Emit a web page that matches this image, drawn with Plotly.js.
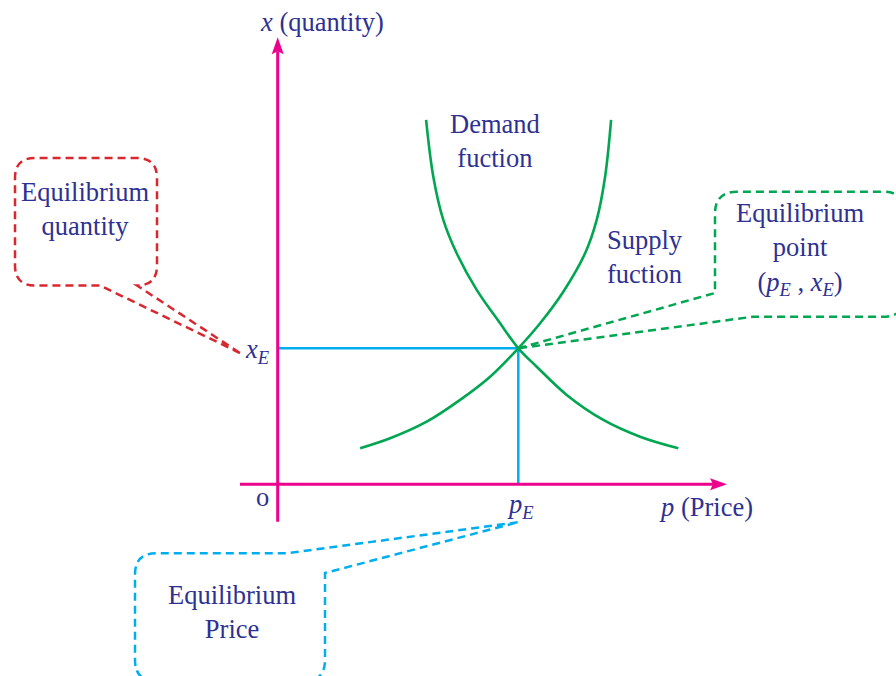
<!DOCTYPE html>
<html>
<head>
<meta charset="utf-8">
<script src="https://cdn.plot.ly/plotly-3.0.1.min.js"></script>
<style>html,body{margin:0;padding:0;background:#fff;}#chart{width:896px;height:676px;}</style>
</head>
<body>
<div id="chart"></div>
<script>
// ---- data (economic units) ----
const pE = 12.03;          // equilibrium price
const xE = 6.8;            // equilibrium quantity
const supplyP = [4.12, 5.62, 7.45, 9.12, 10.62, 12.03, 13.12, 14.28, 15.37, 15.95, 16.37, 16.67];
const supplyX = [1.8, 2.3, 3.13, 4.22, 5.38, 6.8, 8.05, 9.63, 11.55, 13.22, 15.38, 18.22];
const demandP = [7.42, 7.78, 8.28, 8.95, 9.95, 11.12, 12.03, 12.95, 14.45, 16.28, 18.12, 20.03];
const demandX = [18.22, 15.38, 13.22, 11.55, 9.72, 8.05, 6.8, 5.88, 4.47, 3.22, 2.38, 1.8];
const axisP = [-1.885, 22.465];   // horizontal axis extent (p)
const axisX = [-1.87, 22.35];     // vertical axis extent (x)

// ---- styles ----
const PINK = '#EC008C', GREEN = '#00A651', BLUE = '#00AEEF', RED = '#D7282F', NAVY = '#2E3192';
const FONT = {family: '"Liberation Serif", "Times New Roman", Times, serif', size: 26.5, color: NAVY};

const traces = [
  {x: [0, pE], y: [xE, xE], mode: 'lines', line: {color: BLUE, width: 2.5}},
  {x: [pE, pE], y: [0, xE], mode: 'lines', line: {color: BLUE, width: 2.5}},
  {x: demandP, y: demandX, mode: 'lines', line: {color: GREEN, width: 2.6, shape: 'spline', smoothing: 1}},
  {x: supplyP, y: supplyX, mode: 'lines', line: {color: GREEN, width: 2.6, shape: 'spline', smoothing: 1}},
  {x: [axisP[0], axisP[1] - 0.7], y: [0, 0], mode: 'lines', line: {color: PINK, width: 3}},
  {x: [0, 0], y: [axisX[0], axisX[1] - 0.7], mode: 'lines', line: {color: PINK, width: 3}}
];

// arrowheads
const hL = 0.85, hW = 0.3, hN = 0.7;
const tP = axisP[1], tX = axisX[1];
const arrowH = `M${tP},0 L${tP - hL},${hW} L${tP - hN},0 L${tP - hL},${-hW} Z`;
const arrowV = `M0,${tX} L${hW},${tX - hL} L0,${tX - hN} L${-hW},${tX - hL} Z`;

// callout bubbles
function redPath(b) {
  const {l, r, t, bo, rad, a, tip} = b;
  return `M${tip[0]},${tip[1]} L${a},${bo} L${l + rad},${bo} Q${l},${bo} ${l},${bo + rad} L${l},${t - rad} Q${l},${t} ${l + rad},${t} L${r - rad},${t} Q${r},${t} ${r},${t - rad} L${r},${bo + rad} Q${r},${bo} ${r - rad},${bo} Z`;
}
function greenPath(b) {
  const {l, r, t, bo, rad, a, bb, tip} = b;
  return `M${tip[0]},${tip[1]} L${l},${a} L${l},${t - rad} Q${l},${t} ${l + rad},${t} L${r - rad},${t} Q${r},${t} ${r},${t - rad} L${r},${bo + rad} Q${r},${bo} ${r - rad},${bo} L${bb},${bo} Z`;
}
function bluePath(b) {
  const {l, r, t, bo, rad, a, bb, tip} = b;
  return `M${tip[0]},${tip[1]} L${a},${t} L${l + rad},${t} Q${l},${t} ${l},${t - rad} L${l},${bo + rad} Q${l},${bo} ${l + rad},${bo} L${r - rad},${bo} Q${r},${bo} ${r},${bo + rad} L${r},${bb} Z`;
}
const redB = {l: -13.135, r: -6.035, t: 16.315, bo: 9.94, rad: 1.0, a: -8.885, tip: [-1.885, xE - 0.235]};
const greenB = {l: 21.865, r: 31.365, t: 14.63, bo: 8.38, rad: 1.1, a: 9.565, bb: 23.765, tip: [pE, xE]};
const blueB = {l: -7.135, r: 2.365, t: -3.45, bo: -9.835, rad: 1.05, a: 0.45, bb: -4.435, tip: [pE - 0.03, -1.9]};

const dashLine = c => ({color: c, width: 2.5, dash: '8px,5px'});
const shapes = [
  {type: 'path', xref: 'x', yref: 'y', path: arrowH, fillcolor: PINK, line: {width: 0}},
  {type: 'path', xref: 'x', yref: 'y', path: arrowV, fillcolor: PINK, line: {width: 0}},
  {type: 'path', xref: 'x', yref: 'y', path: redPath(redB), line: dashLine(RED)},
  {type: 'path', xref: 'x', yref: 'y', path: greenPath(greenB), line: dashLine(GREEN)},
  {type: 'path', xref: 'x', yref: 'y', path: bluePath(blueB), line: dashLine(BLUE)}
];

const ann = (x, y, text) => ({x, y, xref: 'x', yref: 'y', text, showarrow: false, font: FONT, xanchor: 'center', yanchor: 'middle'});
const sub = (v) => `<i>${v}</i><sub><i>E</i></sub>`;
const annotations = [
  ann(2.215, 23.1, '<i>x</i> (quantity)'),
  ann(-0.75, -0.65, 'o'),
  ann(21.4, -1.15, '<i>p</i> (Price)'),
  ann(12.15, -1.1, sub('p')),
  ann(-1.0, 6.65, sub('x')),
  ann(10.87, 17.15, 'Demand<br>fuction'),
  ann(18.37, 11.35, 'Supply<br>fuction'),
  ann(-9.64, 13.75, 'Equilibrium<br>quantity'),
  ann(26.1, 11.75, `Equilibrium<br>point<br>(${sub('p')} , ${sub('x')})`),
  ann(-2.3, -6.4, 'Equilibrium<br>Price')
];

const layout = {
  width: 896, height: 676,
  margin: {l: 0, r: 0, t: 0, b: 0},
  paper_bgcolor: '#fff', plot_bgcolor: '#fff',
  showlegend: false,
  font: FONT,
  xaxis: {range: [-13.885, 30.915], visible: false, fixedrange: true},
  yaxis: {range: [-9.585, 24.215], visible: false, fixedrange: true},
  shapes, annotations
};
Plotly.newPlot('chart', traces, layout, {staticPlot: true, displayModeBar: false});
</script>
</body>
</html>
